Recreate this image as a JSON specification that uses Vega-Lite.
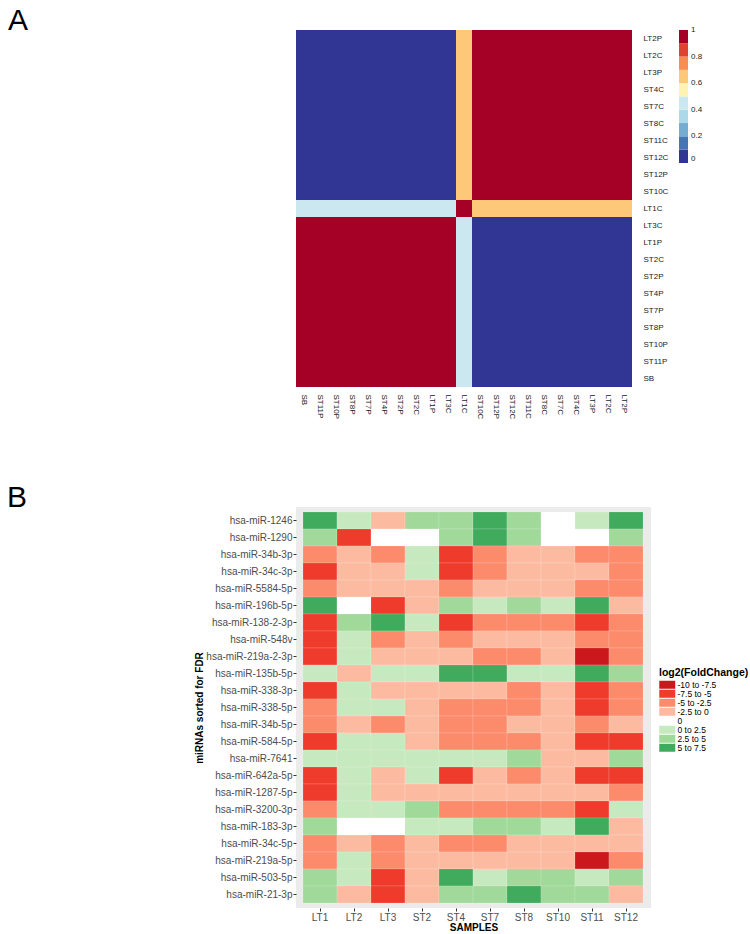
{
"$schema": "https://vega.github.io/schema/vega-lite/v6.json",
"padding": {"left": 7, "top": 6, "right": 0, "bottom": 0},
"bounds": "flush",
"spacing": 118,
"config": {"view": {"stroke": null}, "font": "Liberation Sans"},
"datasets": {
"corr": [
{"r":"LT2P","c":"SB","v":0},{"r":"LT2P","c":"ST11P","v":0},{"r":"LT2P","c":"ST10P","v":0},{"r":"LT2P","c":"ST8P","v":0},{"r":"LT2P","c":"ST7P","v":0},{"r":"LT2P","c":"ST4P","v":0},{"r":"LT2P","c":"ST2P","v":0},{"r":"LT2P","c":"ST2C","v":0},{"r":"LT2P","c":"LT1P","v":0},{"r":"LT2P","c":"LT3C","v":0},{"r":"LT2P","c":"LT1C","v":0.65},{"r":"LT2P","c":"ST10C","v":1},{"r":"LT2P","c":"ST12P","v":1},{"r":"LT2P","c":"ST12C","v":1},{"r":"LT2P","c":"ST11C","v":1},{"r":"LT2P","c":"ST8C","v":1},{"r":"LT2P","c":"ST7C","v":1},{"r":"LT2P","c":"ST4C","v":1},{"r":"LT2P","c":"LT3P","v":1},{"r":"LT2P","c":"LT2C","v":1},{"r":"LT2P","c":"LT2P","v":1},
{"r":"LT2C","c":"SB","v":0},{"r":"LT2C","c":"ST11P","v":0},{"r":"LT2C","c":"ST10P","v":0},{"r":"LT2C","c":"ST8P","v":0},{"r":"LT2C","c":"ST7P","v":0},{"r":"LT2C","c":"ST4P","v":0},{"r":"LT2C","c":"ST2P","v":0},{"r":"LT2C","c":"ST2C","v":0},{"r":"LT2C","c":"LT1P","v":0},{"r":"LT2C","c":"LT3C","v":0},{"r":"LT2C","c":"LT1C","v":0.65},{"r":"LT2C","c":"ST10C","v":1},{"r":"LT2C","c":"ST12P","v":1},{"r":"LT2C","c":"ST12C","v":1},{"r":"LT2C","c":"ST11C","v":1},{"r":"LT2C","c":"ST8C","v":1},{"r":"LT2C","c":"ST7C","v":1},{"r":"LT2C","c":"ST4C","v":1},{"r":"LT2C","c":"LT3P","v":1},{"r":"LT2C","c":"LT2C","v":1},{"r":"LT2C","c":"LT2P","v":1},
{"r":"LT3P","c":"SB","v":0},{"r":"LT3P","c":"ST11P","v":0},{"r":"LT3P","c":"ST10P","v":0},{"r":"LT3P","c":"ST8P","v":0},{"r":"LT3P","c":"ST7P","v":0},{"r":"LT3P","c":"ST4P","v":0},{"r":"LT3P","c":"ST2P","v":0},{"r":"LT3P","c":"ST2C","v":0},{"r":"LT3P","c":"LT1P","v":0},{"r":"LT3P","c":"LT3C","v":0},{"r":"LT3P","c":"LT1C","v":0.65},{"r":"LT3P","c":"ST10C","v":1},{"r":"LT3P","c":"ST12P","v":1},{"r":"LT3P","c":"ST12C","v":1},{"r":"LT3P","c":"ST11C","v":1},{"r":"LT3P","c":"ST8C","v":1},{"r":"LT3P","c":"ST7C","v":1},{"r":"LT3P","c":"ST4C","v":1},{"r":"LT3P","c":"LT3P","v":1},{"r":"LT3P","c":"LT2C","v":1},{"r":"LT3P","c":"LT2P","v":1},
{"r":"ST4C","c":"SB","v":0},{"r":"ST4C","c":"ST11P","v":0},{"r":"ST4C","c":"ST10P","v":0},{"r":"ST4C","c":"ST8P","v":0},{"r":"ST4C","c":"ST7P","v":0},{"r":"ST4C","c":"ST4P","v":0},{"r":"ST4C","c":"ST2P","v":0},{"r":"ST4C","c":"ST2C","v":0},{"r":"ST4C","c":"LT1P","v":0},{"r":"ST4C","c":"LT3C","v":0},{"r":"ST4C","c":"LT1C","v":0.65},{"r":"ST4C","c":"ST10C","v":1},{"r":"ST4C","c":"ST12P","v":1},{"r":"ST4C","c":"ST12C","v":1},{"r":"ST4C","c":"ST11C","v":1},{"r":"ST4C","c":"ST8C","v":1},{"r":"ST4C","c":"ST7C","v":1},{"r":"ST4C","c":"ST4C","v":1},{"r":"ST4C","c":"LT3P","v":1},{"r":"ST4C","c":"LT2C","v":1},{"r":"ST4C","c":"LT2P","v":1},
{"r":"ST7C","c":"SB","v":0},{"r":"ST7C","c":"ST11P","v":0},{"r":"ST7C","c":"ST10P","v":0},{"r":"ST7C","c":"ST8P","v":0},{"r":"ST7C","c":"ST7P","v":0},{"r":"ST7C","c":"ST4P","v":0},{"r":"ST7C","c":"ST2P","v":0},{"r":"ST7C","c":"ST2C","v":0},{"r":"ST7C","c":"LT1P","v":0},{"r":"ST7C","c":"LT3C","v":0},{"r":"ST7C","c":"LT1C","v":0.65},{"r":"ST7C","c":"ST10C","v":1},{"r":"ST7C","c":"ST12P","v":1},{"r":"ST7C","c":"ST12C","v":1},{"r":"ST7C","c":"ST11C","v":1},{"r":"ST7C","c":"ST8C","v":1},{"r":"ST7C","c":"ST7C","v":1},{"r":"ST7C","c":"ST4C","v":1},{"r":"ST7C","c":"LT3P","v":1},{"r":"ST7C","c":"LT2C","v":1},{"r":"ST7C","c":"LT2P","v":1},
{"r":"ST8C","c":"SB","v":0},{"r":"ST8C","c":"ST11P","v":0},{"r":"ST8C","c":"ST10P","v":0},{"r":"ST8C","c":"ST8P","v":0},{"r":"ST8C","c":"ST7P","v":0},{"r":"ST8C","c":"ST4P","v":0},{"r":"ST8C","c":"ST2P","v":0},{"r":"ST8C","c":"ST2C","v":0},{"r":"ST8C","c":"LT1P","v":0},{"r":"ST8C","c":"LT3C","v":0},{"r":"ST8C","c":"LT1C","v":0.65},{"r":"ST8C","c":"ST10C","v":1},{"r":"ST8C","c":"ST12P","v":1},{"r":"ST8C","c":"ST12C","v":1},{"r":"ST8C","c":"ST11C","v":1},{"r":"ST8C","c":"ST8C","v":1},{"r":"ST8C","c":"ST7C","v":1},{"r":"ST8C","c":"ST4C","v":1},{"r":"ST8C","c":"LT3P","v":1},{"r":"ST8C","c":"LT2C","v":1},{"r":"ST8C","c":"LT2P","v":1},
{"r":"ST11C","c":"SB","v":0},{"r":"ST11C","c":"ST11P","v":0},{"r":"ST11C","c":"ST10P","v":0},{"r":"ST11C","c":"ST8P","v":0},{"r":"ST11C","c":"ST7P","v":0},{"r":"ST11C","c":"ST4P","v":0},{"r":"ST11C","c":"ST2P","v":0},{"r":"ST11C","c":"ST2C","v":0},{"r":"ST11C","c":"LT1P","v":0},{"r":"ST11C","c":"LT3C","v":0},{"r":"ST11C","c":"LT1C","v":0.65},{"r":"ST11C","c":"ST10C","v":1},{"r":"ST11C","c":"ST12P","v":1},{"r":"ST11C","c":"ST12C","v":1},{"r":"ST11C","c":"ST11C","v":1},{"r":"ST11C","c":"ST8C","v":1},{"r":"ST11C","c":"ST7C","v":1},{"r":"ST11C","c":"ST4C","v":1},{"r":"ST11C","c":"LT3P","v":1},{"r":"ST11C","c":"LT2C","v":1},{"r":"ST11C","c":"LT2P","v":1},
{"r":"ST12C","c":"SB","v":0},{"r":"ST12C","c":"ST11P","v":0},{"r":"ST12C","c":"ST10P","v":0},{"r":"ST12C","c":"ST8P","v":0},{"r":"ST12C","c":"ST7P","v":0},{"r":"ST12C","c":"ST4P","v":0},{"r":"ST12C","c":"ST2P","v":0},{"r":"ST12C","c":"ST2C","v":0},{"r":"ST12C","c":"LT1P","v":0},{"r":"ST12C","c":"LT3C","v":0},{"r":"ST12C","c":"LT1C","v":0.65},{"r":"ST12C","c":"ST10C","v":1},{"r":"ST12C","c":"ST12P","v":1},{"r":"ST12C","c":"ST12C","v":1},{"r":"ST12C","c":"ST11C","v":1},{"r":"ST12C","c":"ST8C","v":1},{"r":"ST12C","c":"ST7C","v":1},{"r":"ST12C","c":"ST4C","v":1},{"r":"ST12C","c":"LT3P","v":1},{"r":"ST12C","c":"LT2C","v":1},{"r":"ST12C","c":"LT2P","v":1},
{"r":"ST12P","c":"SB","v":0},{"r":"ST12P","c":"ST11P","v":0},{"r":"ST12P","c":"ST10P","v":0},{"r":"ST12P","c":"ST8P","v":0},{"r":"ST12P","c":"ST7P","v":0},{"r":"ST12P","c":"ST4P","v":0},{"r":"ST12P","c":"ST2P","v":0},{"r":"ST12P","c":"ST2C","v":0},{"r":"ST12P","c":"LT1P","v":0},{"r":"ST12P","c":"LT3C","v":0},{"r":"ST12P","c":"LT1C","v":0.65},{"r":"ST12P","c":"ST10C","v":1},{"r":"ST12P","c":"ST12P","v":1},{"r":"ST12P","c":"ST12C","v":1},{"r":"ST12P","c":"ST11C","v":1},{"r":"ST12P","c":"ST8C","v":1},{"r":"ST12P","c":"ST7C","v":1},{"r":"ST12P","c":"ST4C","v":1},{"r":"ST12P","c":"LT3P","v":1},{"r":"ST12P","c":"LT2C","v":1},{"r":"ST12P","c":"LT2P","v":1},
{"r":"ST10C","c":"SB","v":0},{"r":"ST10C","c":"ST11P","v":0},{"r":"ST10C","c":"ST10P","v":0},{"r":"ST10C","c":"ST8P","v":0},{"r":"ST10C","c":"ST7P","v":0},{"r":"ST10C","c":"ST4P","v":0},{"r":"ST10C","c":"ST2P","v":0},{"r":"ST10C","c":"ST2C","v":0},{"r":"ST10C","c":"LT1P","v":0},{"r":"ST10C","c":"LT3C","v":0},{"r":"ST10C","c":"LT1C","v":0.65},{"r":"ST10C","c":"ST10C","v":1},{"r":"ST10C","c":"ST12P","v":1},{"r":"ST10C","c":"ST12C","v":1},{"r":"ST10C","c":"ST11C","v":1},{"r":"ST10C","c":"ST8C","v":1},{"r":"ST10C","c":"ST7C","v":1},{"r":"ST10C","c":"ST4C","v":1},{"r":"ST10C","c":"LT3P","v":1},{"r":"ST10C","c":"LT2C","v":1},{"r":"ST10C","c":"LT2P","v":1},
{"r":"LT1C","c":"SB","v":0.42},{"r":"LT1C","c":"ST11P","v":0.42},{"r":"LT1C","c":"ST10P","v":0.42},{"r":"LT1C","c":"ST8P","v":0.42},{"r":"LT1C","c":"ST7P","v":0.42},{"r":"LT1C","c":"ST4P","v":0.42},{"r":"LT1C","c":"ST2P","v":0.42},{"r":"LT1C","c":"ST2C","v":0.42},{"r":"LT1C","c":"LT1P","v":0.42},{"r":"LT1C","c":"LT3C","v":0.42},{"r":"LT1C","c":"LT1C","v":1},{"r":"LT1C","c":"ST10C","v":0.65},{"r":"LT1C","c":"ST12P","v":0.65},{"r":"LT1C","c":"ST12C","v":0.65},{"r":"LT1C","c":"ST11C","v":0.65},{"r":"LT1C","c":"ST8C","v":0.65},{"r":"LT1C","c":"ST7C","v":0.65},{"r":"LT1C","c":"ST4C","v":0.65},{"r":"LT1C","c":"LT3P","v":0.65},{"r":"LT1C","c":"LT2C","v":0.65},{"r":"LT1C","c":"LT2P","v":0.65},
{"r":"LT3C","c":"SB","v":1},{"r":"LT3C","c":"ST11P","v":1},{"r":"LT3C","c":"ST10P","v":1},{"r":"LT3C","c":"ST8P","v":1},{"r":"LT3C","c":"ST7P","v":1},{"r":"LT3C","c":"ST4P","v":1},{"r":"LT3C","c":"ST2P","v":1},{"r":"LT3C","c":"ST2C","v":1},{"r":"LT3C","c":"LT1P","v":1},{"r":"LT3C","c":"LT3C","v":1},{"r":"LT3C","c":"LT1C","v":0.42},{"r":"LT3C","c":"ST10C","v":0},{"r":"LT3C","c":"ST12P","v":0},{"r":"LT3C","c":"ST12C","v":0},{"r":"LT3C","c":"ST11C","v":0},{"r":"LT3C","c":"ST8C","v":0},{"r":"LT3C","c":"ST7C","v":0},{"r":"LT3C","c":"ST4C","v":0},{"r":"LT3C","c":"LT3P","v":0},{"r":"LT3C","c":"LT2C","v":0},{"r":"LT3C","c":"LT2P","v":0},
{"r":"LT1P","c":"SB","v":1},{"r":"LT1P","c":"ST11P","v":1},{"r":"LT1P","c":"ST10P","v":1},{"r":"LT1P","c":"ST8P","v":1},{"r":"LT1P","c":"ST7P","v":1},{"r":"LT1P","c":"ST4P","v":1},{"r":"LT1P","c":"ST2P","v":1},{"r":"LT1P","c":"ST2C","v":1},{"r":"LT1P","c":"LT1P","v":1},{"r":"LT1P","c":"LT3C","v":1},{"r":"LT1P","c":"LT1C","v":0.42},{"r":"LT1P","c":"ST10C","v":0},{"r":"LT1P","c":"ST12P","v":0},{"r":"LT1P","c":"ST12C","v":0},{"r":"LT1P","c":"ST11C","v":0},{"r":"LT1P","c":"ST8C","v":0},{"r":"LT1P","c":"ST7C","v":0},{"r":"LT1P","c":"ST4C","v":0},{"r":"LT1P","c":"LT3P","v":0},{"r":"LT1P","c":"LT2C","v":0},{"r":"LT1P","c":"LT2P","v":0},
{"r":"ST2C","c":"SB","v":1},{"r":"ST2C","c":"ST11P","v":1},{"r":"ST2C","c":"ST10P","v":1},{"r":"ST2C","c":"ST8P","v":1},{"r":"ST2C","c":"ST7P","v":1},{"r":"ST2C","c":"ST4P","v":1},{"r":"ST2C","c":"ST2P","v":1},{"r":"ST2C","c":"ST2C","v":1},{"r":"ST2C","c":"LT1P","v":1},{"r":"ST2C","c":"LT3C","v":1},{"r":"ST2C","c":"LT1C","v":0.42},{"r":"ST2C","c":"ST10C","v":0},{"r":"ST2C","c":"ST12P","v":0},{"r":"ST2C","c":"ST12C","v":0},{"r":"ST2C","c":"ST11C","v":0},{"r":"ST2C","c":"ST8C","v":0},{"r":"ST2C","c":"ST7C","v":0},{"r":"ST2C","c":"ST4C","v":0},{"r":"ST2C","c":"LT3P","v":0},{"r":"ST2C","c":"LT2C","v":0},{"r":"ST2C","c":"LT2P","v":0},
{"r":"ST2P","c":"SB","v":1},{"r":"ST2P","c":"ST11P","v":1},{"r":"ST2P","c":"ST10P","v":1},{"r":"ST2P","c":"ST8P","v":1},{"r":"ST2P","c":"ST7P","v":1},{"r":"ST2P","c":"ST4P","v":1},{"r":"ST2P","c":"ST2P","v":1},{"r":"ST2P","c":"ST2C","v":1},{"r":"ST2P","c":"LT1P","v":1},{"r":"ST2P","c":"LT3C","v":1},{"r":"ST2P","c":"LT1C","v":0.42},{"r":"ST2P","c":"ST10C","v":0},{"r":"ST2P","c":"ST12P","v":0},{"r":"ST2P","c":"ST12C","v":0},{"r":"ST2P","c":"ST11C","v":0},{"r":"ST2P","c":"ST8C","v":0},{"r":"ST2P","c":"ST7C","v":0},{"r":"ST2P","c":"ST4C","v":0},{"r":"ST2P","c":"LT3P","v":0},{"r":"ST2P","c":"LT2C","v":0},{"r":"ST2P","c":"LT2P","v":0},
{"r":"ST4P","c":"SB","v":1},{"r":"ST4P","c":"ST11P","v":1},{"r":"ST4P","c":"ST10P","v":1},{"r":"ST4P","c":"ST8P","v":1},{"r":"ST4P","c":"ST7P","v":1},{"r":"ST4P","c":"ST4P","v":1},{"r":"ST4P","c":"ST2P","v":1},{"r":"ST4P","c":"ST2C","v":1},{"r":"ST4P","c":"LT1P","v":1},{"r":"ST4P","c":"LT3C","v":1},{"r":"ST4P","c":"LT1C","v":0.42},{"r":"ST4P","c":"ST10C","v":0},{"r":"ST4P","c":"ST12P","v":0},{"r":"ST4P","c":"ST12C","v":0},{"r":"ST4P","c":"ST11C","v":0},{"r":"ST4P","c":"ST8C","v":0},{"r":"ST4P","c":"ST7C","v":0},{"r":"ST4P","c":"ST4C","v":0},{"r":"ST4P","c":"LT3P","v":0},{"r":"ST4P","c":"LT2C","v":0},{"r":"ST4P","c":"LT2P","v":0},
{"r":"ST7P","c":"SB","v":1},{"r":"ST7P","c":"ST11P","v":1},{"r":"ST7P","c":"ST10P","v":1},{"r":"ST7P","c":"ST8P","v":1},{"r":"ST7P","c":"ST7P","v":1},{"r":"ST7P","c":"ST4P","v":1},{"r":"ST7P","c":"ST2P","v":1},{"r":"ST7P","c":"ST2C","v":1},{"r":"ST7P","c":"LT1P","v":1},{"r":"ST7P","c":"LT3C","v":1},{"r":"ST7P","c":"LT1C","v":0.42},{"r":"ST7P","c":"ST10C","v":0},{"r":"ST7P","c":"ST12P","v":0},{"r":"ST7P","c":"ST12C","v":0},{"r":"ST7P","c":"ST11C","v":0},{"r":"ST7P","c":"ST8C","v":0},{"r":"ST7P","c":"ST7C","v":0},{"r":"ST7P","c":"ST4C","v":0},{"r":"ST7P","c":"LT3P","v":0},{"r":"ST7P","c":"LT2C","v":0},{"r":"ST7P","c":"LT2P","v":0},
{"r":"ST8P","c":"SB","v":1},{"r":"ST8P","c":"ST11P","v":1},{"r":"ST8P","c":"ST10P","v":1},{"r":"ST8P","c":"ST8P","v":1},{"r":"ST8P","c":"ST7P","v":1},{"r":"ST8P","c":"ST4P","v":1},{"r":"ST8P","c":"ST2P","v":1},{"r":"ST8P","c":"ST2C","v":1},{"r":"ST8P","c":"LT1P","v":1},{"r":"ST8P","c":"LT3C","v":1},{"r":"ST8P","c":"LT1C","v":0.42},{"r":"ST8P","c":"ST10C","v":0},{"r":"ST8P","c":"ST12P","v":0},{"r":"ST8P","c":"ST12C","v":0},{"r":"ST8P","c":"ST11C","v":0},{"r":"ST8P","c":"ST8C","v":0},{"r":"ST8P","c":"ST7C","v":0},{"r":"ST8P","c":"ST4C","v":0},{"r":"ST8P","c":"LT3P","v":0},{"r":"ST8P","c":"LT2C","v":0},{"r":"ST8P","c":"LT2P","v":0},
{"r":"ST10P","c":"SB","v":1},{"r":"ST10P","c":"ST11P","v":1},{"r":"ST10P","c":"ST10P","v":1},{"r":"ST10P","c":"ST8P","v":1},{"r":"ST10P","c":"ST7P","v":1},{"r":"ST10P","c":"ST4P","v":1},{"r":"ST10P","c":"ST2P","v":1},{"r":"ST10P","c":"ST2C","v":1},{"r":"ST10P","c":"LT1P","v":1},{"r":"ST10P","c":"LT3C","v":1},{"r":"ST10P","c":"LT1C","v":0.42},{"r":"ST10P","c":"ST10C","v":0},{"r":"ST10P","c":"ST12P","v":0},{"r":"ST10P","c":"ST12C","v":0},{"r":"ST10P","c":"ST11C","v":0},{"r":"ST10P","c":"ST8C","v":0},{"r":"ST10P","c":"ST7C","v":0},{"r":"ST10P","c":"ST4C","v":0},{"r":"ST10P","c":"LT3P","v":0},{"r":"ST10P","c":"LT2C","v":0},{"r":"ST10P","c":"LT2P","v":0},
{"r":"ST11P","c":"SB","v":1},{"r":"ST11P","c":"ST11P","v":1},{"r":"ST11P","c":"ST10P","v":1},{"r":"ST11P","c":"ST8P","v":1},{"r":"ST11P","c":"ST7P","v":1},{"r":"ST11P","c":"ST4P","v":1},{"r":"ST11P","c":"ST2P","v":1},{"r":"ST11P","c":"ST2C","v":1},{"r":"ST11P","c":"LT1P","v":1},{"r":"ST11P","c":"LT3C","v":1},{"r":"ST11P","c":"LT1C","v":0.42},{"r":"ST11P","c":"ST10C","v":0},{"r":"ST11P","c":"ST12P","v":0},{"r":"ST11P","c":"ST12C","v":0},{"r":"ST11P","c":"ST11C","v":0},{"r":"ST11P","c":"ST8C","v":0},{"r":"ST11P","c":"ST7C","v":0},{"r":"ST11P","c":"ST4C","v":0},{"r":"ST11P","c":"LT3P","v":0},{"r":"ST11P","c":"LT2C","v":0},{"r":"ST11P","c":"LT2P","v":0},
{"r":"SB","c":"SB","v":1},{"r":"SB","c":"ST11P","v":1},{"r":"SB","c":"ST10P","v":1},{"r":"SB","c":"ST8P","v":1},{"r":"SB","c":"ST7P","v":1},{"r":"SB","c":"ST4P","v":1},{"r":"SB","c":"ST2P","v":1},{"r":"SB","c":"ST2C","v":1},{"r":"SB","c":"LT1P","v":1},{"r":"SB","c":"LT3C","v":1},{"r":"SB","c":"LT1C","v":0.42},{"r":"SB","c":"ST10C","v":0},{"r":"SB","c":"ST12P","v":0},{"r":"SB","c":"ST12C","v":0},{"r":"SB","c":"ST11C","v":0},{"r":"SB","c":"ST8C","v":0},{"r":"SB","c":"ST7C","v":0},{"r":"SB","c":"ST4C","v":0},{"r":"SB","c":"LT3P","v":0},{"r":"SB","c":"LT2C","v":0},{"r":"SB","c":"LT2P","v":0}
],
"fc": [
{"m":"hsa-miR-1246","s":"LT1","c":"5 to 7.5"},{"m":"hsa-miR-1246","s":"LT2","c":"0 to 2.5"},{"m":"hsa-miR-1246","s":"LT3","c":"-2.5 to 0"},{"m":"hsa-miR-1246","s":"ST2","c":"2.5 to 5"},{"m":"hsa-miR-1246","s":"ST4","c":"2.5 to 5"},{"m":"hsa-miR-1246","s":"ST7","c":"5 to 7.5"},{"m":"hsa-miR-1246","s":"ST8","c":"2.5 to 5"},{"m":"hsa-miR-1246","s":"ST10","c":"0"},{"m":"hsa-miR-1246","s":"ST11","c":"0 to 2.5"},{"m":"hsa-miR-1246","s":"ST12","c":"5 to 7.5"},
{"m":"hsa-miR-1290","s":"LT1","c":"2.5 to 5"},{"m":"hsa-miR-1290","s":"LT2","c":"-7.5 to -5"},{"m":"hsa-miR-1290","s":"LT3","c":"0"},{"m":"hsa-miR-1290","s":"ST2","c":"0"},{"m":"hsa-miR-1290","s":"ST4","c":"2.5 to 5"},{"m":"hsa-miR-1290","s":"ST7","c":"5 to 7.5"},{"m":"hsa-miR-1290","s":"ST8","c":"2.5 to 5"},{"m":"hsa-miR-1290","s":"ST10","c":"0"},{"m":"hsa-miR-1290","s":"ST11","c":"0"},{"m":"hsa-miR-1290","s":"ST12","c":"2.5 to 5"},
{"m":"hsa-miR-34b-3p","s":"LT1","c":"-5 to -2.5"},{"m":"hsa-miR-34b-3p","s":"LT2","c":"-2.5 to 0"},{"m":"hsa-miR-34b-3p","s":"LT3","c":"-5 to -2.5"},{"m":"hsa-miR-34b-3p","s":"ST2","c":"0 to 2.5"},{"m":"hsa-miR-34b-3p","s":"ST4","c":"-7.5 to -5"},{"m":"hsa-miR-34b-3p","s":"ST7","c":"-5 to -2.5"},{"m":"hsa-miR-34b-3p","s":"ST8","c":"-2.5 to 0"},{"m":"hsa-miR-34b-3p","s":"ST10","c":"-2.5 to 0"},{"m":"hsa-miR-34b-3p","s":"ST11","c":"-5 to -2.5"},{"m":"hsa-miR-34b-3p","s":"ST12","c":"-5 to -2.5"},
{"m":"hsa-miR-34c-3p","s":"LT1","c":"-7.5 to -5"},{"m":"hsa-miR-34c-3p","s":"LT2","c":"-2.5 to 0"},{"m":"hsa-miR-34c-3p","s":"LT3","c":"-2.5 to 0"},{"m":"hsa-miR-34c-3p","s":"ST2","c":"0 to 2.5"},{"m":"hsa-miR-34c-3p","s":"ST4","c":"-7.5 to -5"},{"m":"hsa-miR-34c-3p","s":"ST7","c":"-5 to -2.5"},{"m":"hsa-miR-34c-3p","s":"ST8","c":"-2.5 to 0"},{"m":"hsa-miR-34c-3p","s":"ST10","c":"-2.5 to 0"},{"m":"hsa-miR-34c-3p","s":"ST11","c":"-2.5 to 0"},{"m":"hsa-miR-34c-3p","s":"ST12","c":"-5 to -2.5"},
{"m":"hsa-miR-5584-5p","s":"LT1","c":"-5 to -2.5"},{"m":"hsa-miR-5584-5p","s":"LT2","c":"-2.5 to 0"},{"m":"hsa-miR-5584-5p","s":"LT3","c":"-2.5 to 0"},{"m":"hsa-miR-5584-5p","s":"ST2","c":"-2.5 to 0"},{"m":"hsa-miR-5584-5p","s":"ST4","c":"-5 to -2.5"},{"m":"hsa-miR-5584-5p","s":"ST7","c":"-2.5 to 0"},{"m":"hsa-miR-5584-5p","s":"ST8","c":"-2.5 to 0"},{"m":"hsa-miR-5584-5p","s":"ST10","c":"-2.5 to 0"},{"m":"hsa-miR-5584-5p","s":"ST11","c":"-5 to -2.5"},{"m":"hsa-miR-5584-5p","s":"ST12","c":"-5 to -2.5"},
{"m":"hsa-miR-196b-5p","s":"LT1","c":"5 to 7.5"},{"m":"hsa-miR-196b-5p","s":"LT2","c":"0"},{"m":"hsa-miR-196b-5p","s":"LT3","c":"-7.5 to -5"},{"m":"hsa-miR-196b-5p","s":"ST2","c":"-2.5 to 0"},{"m":"hsa-miR-196b-5p","s":"ST4","c":"2.5 to 5"},{"m":"hsa-miR-196b-5p","s":"ST7","c":"0 to 2.5"},{"m":"hsa-miR-196b-5p","s":"ST8","c":"2.5 to 5"},{"m":"hsa-miR-196b-5p","s":"ST10","c":"0 to 2.5"},{"m":"hsa-miR-196b-5p","s":"ST11","c":"5 to 7.5"},{"m":"hsa-miR-196b-5p","s":"ST12","c":"-2.5 to 0"},
{"m":"hsa-miR-138-2-3p","s":"LT1","c":"-7.5 to -5"},{"m":"hsa-miR-138-2-3p","s":"LT2","c":"2.5 to 5"},{"m":"hsa-miR-138-2-3p","s":"LT3","c":"5 to 7.5"},{"m":"hsa-miR-138-2-3p","s":"ST2","c":"0 to 2.5"},{"m":"hsa-miR-138-2-3p","s":"ST4","c":"-7.5 to -5"},{"m":"hsa-miR-138-2-3p","s":"ST7","c":"-5 to -2.5"},{"m":"hsa-miR-138-2-3p","s":"ST8","c":"-5 to -2.5"},{"m":"hsa-miR-138-2-3p","s":"ST10","c":"-5 to -2.5"},{"m":"hsa-miR-138-2-3p","s":"ST11","c":"-7.5 to -5"},{"m":"hsa-miR-138-2-3p","s":"ST12","c":"-5 to -2.5"},
{"m":"hsa-miR-548v","s":"LT1","c":"-7.5 to -5"},{"m":"hsa-miR-548v","s":"LT2","c":"0 to 2.5"},{"m":"hsa-miR-548v","s":"LT3","c":"-5 to -2.5"},{"m":"hsa-miR-548v","s":"ST2","c":"-2.5 to 0"},{"m":"hsa-miR-548v","s":"ST4","c":"-5 to -2.5"},{"m":"hsa-miR-548v","s":"ST7","c":"-2.5 to 0"},{"m":"hsa-miR-548v","s":"ST8","c":"-2.5 to 0"},{"m":"hsa-miR-548v","s":"ST10","c":"-2.5 to 0"},{"m":"hsa-miR-548v","s":"ST11","c":"-5 to -2.5"},{"m":"hsa-miR-548v","s":"ST12","c":"-5 to -2.5"},
{"m":"hsa-miR-219a-2-3p","s":"LT1","c":"-7.5 to -5"},{"m":"hsa-miR-219a-2-3p","s":"LT2","c":"0 to 2.5"},{"m":"hsa-miR-219a-2-3p","s":"LT3","c":"-2.5 to 0"},{"m":"hsa-miR-219a-2-3p","s":"ST2","c":"-2.5 to 0"},{"m":"hsa-miR-219a-2-3p","s":"ST4","c":"-2.5 to 0"},{"m":"hsa-miR-219a-2-3p","s":"ST7","c":"-5 to -2.5"},{"m":"hsa-miR-219a-2-3p","s":"ST8","c":"-5 to -2.5"},{"m":"hsa-miR-219a-2-3p","s":"ST10","c":"-2.5 to 0"},{"m":"hsa-miR-219a-2-3p","s":"ST11","c":"-10 to -7.5"},{"m":"hsa-miR-219a-2-3p","s":"ST12","c":"-5 to -2.5"},
{"m":"hsa-miR-135b-5p","s":"LT1","c":"0 to 2.5"},{"m":"hsa-miR-135b-5p","s":"LT2","c":"-2.5 to 0"},{"m":"hsa-miR-135b-5p","s":"LT3","c":"0 to 2.5"},{"m":"hsa-miR-135b-5p","s":"ST2","c":"0 to 2.5"},{"m":"hsa-miR-135b-5p","s":"ST4","c":"5 to 7.5"},{"m":"hsa-miR-135b-5p","s":"ST7","c":"5 to 7.5"},{"m":"hsa-miR-135b-5p","s":"ST8","c":"0 to 2.5"},{"m":"hsa-miR-135b-5p","s":"ST10","c":"0 to 2.5"},{"m":"hsa-miR-135b-5p","s":"ST11","c":"5 to 7.5"},{"m":"hsa-miR-135b-5p","s":"ST12","c":"2.5 to 5"},
{"m":"hsa-miR-338-3p","s":"LT1","c":"-7.5 to -5"},{"m":"hsa-miR-338-3p","s":"LT2","c":"0 to 2.5"},{"m":"hsa-miR-338-3p","s":"LT3","c":"-2.5 to 0"},{"m":"hsa-miR-338-3p","s":"ST2","c":"-2.5 to 0"},{"m":"hsa-miR-338-3p","s":"ST4","c":"-2.5 to 0"},{"m":"hsa-miR-338-3p","s":"ST7","c":"-2.5 to 0"},{"m":"hsa-miR-338-3p","s":"ST8","c":"-5 to -2.5"},{"m":"hsa-miR-338-3p","s":"ST10","c":"-2.5 to 0"},{"m":"hsa-miR-338-3p","s":"ST11","c":"-7.5 to -5"},{"m":"hsa-miR-338-3p","s":"ST12","c":"-5 to -2.5"},
{"m":"hsa-miR-338-5p","s":"LT1","c":"-5 to -2.5"},{"m":"hsa-miR-338-5p","s":"LT2","c":"0 to 2.5"},{"m":"hsa-miR-338-5p","s":"LT3","c":"0 to 2.5"},{"m":"hsa-miR-338-5p","s":"ST2","c":"-2.5 to 0"},{"m":"hsa-miR-338-5p","s":"ST4","c":"-5 to -2.5"},{"m":"hsa-miR-338-5p","s":"ST7","c":"-5 to -2.5"},{"m":"hsa-miR-338-5p","s":"ST8","c":"-5 to -2.5"},{"m":"hsa-miR-338-5p","s":"ST10","c":"-2.5 to 0"},{"m":"hsa-miR-338-5p","s":"ST11","c":"-7.5 to -5"},{"m":"hsa-miR-338-5p","s":"ST12","c":"-5 to -2.5"},
{"m":"hsa-miR-34b-5p","s":"LT1","c":"-5 to -2.5"},{"m":"hsa-miR-34b-5p","s":"LT2","c":"-2.5 to 0"},{"m":"hsa-miR-34b-5p","s":"LT3","c":"-5 to -2.5"},{"m":"hsa-miR-34b-5p","s":"ST2","c":"-2.5 to 0"},{"m":"hsa-miR-34b-5p","s":"ST4","c":"-5 to -2.5"},{"m":"hsa-miR-34b-5p","s":"ST7","c":"-5 to -2.5"},{"m":"hsa-miR-34b-5p","s":"ST8","c":"-2.5 to 0"},{"m":"hsa-miR-34b-5p","s":"ST10","c":"-2.5 to 0"},{"m":"hsa-miR-34b-5p","s":"ST11","c":"-5 to -2.5"},{"m":"hsa-miR-34b-5p","s":"ST12","c":"-2.5 to 0"},
{"m":"hsa-miR-584-5p","s":"LT1","c":"-7.5 to -5"},{"m":"hsa-miR-584-5p","s":"LT2","c":"0 to 2.5"},{"m":"hsa-miR-584-5p","s":"LT3","c":"0 to 2.5"},{"m":"hsa-miR-584-5p","s":"ST2","c":"-2.5 to 0"},{"m":"hsa-miR-584-5p","s":"ST4","c":"-5 to -2.5"},{"m":"hsa-miR-584-5p","s":"ST7","c":"-5 to -2.5"},{"m":"hsa-miR-584-5p","s":"ST8","c":"-5 to -2.5"},{"m":"hsa-miR-584-5p","s":"ST10","c":"-2.5 to 0"},{"m":"hsa-miR-584-5p","s":"ST11","c":"-7.5 to -5"},{"m":"hsa-miR-584-5p","s":"ST12","c":"-7.5 to -5"},
{"m":"hsa-miR-7641","s":"LT1","c":"0 to 2.5"},{"m":"hsa-miR-7641","s":"LT2","c":"0 to 2.5"},{"m":"hsa-miR-7641","s":"LT3","c":"0 to 2.5"},{"m":"hsa-miR-7641","s":"ST2","c":"0 to 2.5"},{"m":"hsa-miR-7641","s":"ST4","c":"0 to 2.5"},{"m":"hsa-miR-7641","s":"ST7","c":"0 to 2.5"},{"m":"hsa-miR-7641","s":"ST8","c":"2.5 to 5"},{"m":"hsa-miR-7641","s":"ST10","c":"-2.5 to 0"},{"m":"hsa-miR-7641","s":"ST11","c":"-2.5 to 0"},{"m":"hsa-miR-7641","s":"ST12","c":"2.5 to 5"},
{"m":"hsa-miR-642a-5p","s":"LT1","c":"-7.5 to -5"},{"m":"hsa-miR-642a-5p","s":"LT2","c":"0 to 2.5"},{"m":"hsa-miR-642a-5p","s":"LT3","c":"-2.5 to 0"},{"m":"hsa-miR-642a-5p","s":"ST2","c":"0 to 2.5"},{"m":"hsa-miR-642a-5p","s":"ST4","c":"-7.5 to -5"},{"m":"hsa-miR-642a-5p","s":"ST7","c":"-2.5 to 0"},{"m":"hsa-miR-642a-5p","s":"ST8","c":"-5 to -2.5"},{"m":"hsa-miR-642a-5p","s":"ST10","c":"-2.5 to 0"},{"m":"hsa-miR-642a-5p","s":"ST11","c":"-7.5 to -5"},{"m":"hsa-miR-642a-5p","s":"ST12","c":"-7.5 to -5"},
{"m":"hsa-miR-1287-5p","s":"LT1","c":"-7.5 to -5"},{"m":"hsa-miR-1287-5p","s":"LT2","c":"0 to 2.5"},{"m":"hsa-miR-1287-5p","s":"LT3","c":"-2.5 to 0"},{"m":"hsa-miR-1287-5p","s":"ST2","c":"-2.5 to 0"},{"m":"hsa-miR-1287-5p","s":"ST4","c":"-2.5 to 0"},{"m":"hsa-miR-1287-5p","s":"ST7","c":"-2.5 to 0"},{"m":"hsa-miR-1287-5p","s":"ST8","c":"-2.5 to 0"},{"m":"hsa-miR-1287-5p","s":"ST10","c":"-2.5 to 0"},{"m":"hsa-miR-1287-5p","s":"ST11","c":"-2.5 to 0"},{"m":"hsa-miR-1287-5p","s":"ST12","c":"-5 to -2.5"},
{"m":"hsa-miR-3200-3p","s":"LT1","c":"-5 to -2.5"},{"m":"hsa-miR-3200-3p","s":"LT2","c":"0 to 2.5"},{"m":"hsa-miR-3200-3p","s":"LT3","c":"0 to 2.5"},{"m":"hsa-miR-3200-3p","s":"ST2","c":"2.5 to 5"},{"m":"hsa-miR-3200-3p","s":"ST4","c":"-5 to -2.5"},{"m":"hsa-miR-3200-3p","s":"ST7","c":"-5 to -2.5"},{"m":"hsa-miR-3200-3p","s":"ST8","c":"-5 to -2.5"},{"m":"hsa-miR-3200-3p","s":"ST10","c":"-5 to -2.5"},{"m":"hsa-miR-3200-3p","s":"ST11","c":"-7.5 to -5"},{"m":"hsa-miR-3200-3p","s":"ST12","c":"0 to 2.5"},
{"m":"hsa-miR-183-3p","s":"LT1","c":"2.5 to 5"},{"m":"hsa-miR-183-3p","s":"LT2","c":"0"},{"m":"hsa-miR-183-3p","s":"LT3","c":"0"},{"m":"hsa-miR-183-3p","s":"ST2","c":"0 to 2.5"},{"m":"hsa-miR-183-3p","s":"ST4","c":"0 to 2.5"},{"m":"hsa-miR-183-3p","s":"ST7","c":"2.5 to 5"},{"m":"hsa-miR-183-3p","s":"ST8","c":"2.5 to 5"},{"m":"hsa-miR-183-3p","s":"ST10","c":"0 to 2.5"},{"m":"hsa-miR-183-3p","s":"ST11","c":"5 to 7.5"},{"m":"hsa-miR-183-3p","s":"ST12","c":"-2.5 to 0"},
{"m":"hsa-miR-34c-5p","s":"LT1","c":"-5 to -2.5"},{"m":"hsa-miR-34c-5p","s":"LT2","c":"-2.5 to 0"},{"m":"hsa-miR-34c-5p","s":"LT3","c":"-5 to -2.5"},{"m":"hsa-miR-34c-5p","s":"ST2","c":"-2.5 to 0"},{"m":"hsa-miR-34c-5p","s":"ST4","c":"-5 to -2.5"},{"m":"hsa-miR-34c-5p","s":"ST7","c":"-5 to -2.5"},{"m":"hsa-miR-34c-5p","s":"ST8","c":"-2.5 to 0"},{"m":"hsa-miR-34c-5p","s":"ST10","c":"-2.5 to 0"},{"m":"hsa-miR-34c-5p","s":"ST11","c":"-2.5 to 0"},{"m":"hsa-miR-34c-5p","s":"ST12","c":"-2.5 to 0"},
{"m":"hsa-miR-219a-5p","s":"LT1","c":"-5 to -2.5"},{"m":"hsa-miR-219a-5p","s":"LT2","c":"0 to 2.5"},{"m":"hsa-miR-219a-5p","s":"LT3","c":"-5 to -2.5"},{"m":"hsa-miR-219a-5p","s":"ST2","c":"-2.5 to 0"},{"m":"hsa-miR-219a-5p","s":"ST4","c":"-2.5 to 0"},{"m":"hsa-miR-219a-5p","s":"ST7","c":"-2.5 to 0"},{"m":"hsa-miR-219a-5p","s":"ST8","c":"-2.5 to 0"},{"m":"hsa-miR-219a-5p","s":"ST10","c":"-2.5 to 0"},{"m":"hsa-miR-219a-5p","s":"ST11","c":"-10 to -7.5"},{"m":"hsa-miR-219a-5p","s":"ST12","c":"-5 to -2.5"},
{"m":"hsa-miR-503-5p","s":"LT1","c":"2.5 to 5"},{"m":"hsa-miR-503-5p","s":"LT2","c":"0 to 2.5"},{"m":"hsa-miR-503-5p","s":"LT3","c":"-7.5 to -5"},{"m":"hsa-miR-503-5p","s":"ST2","c":"-2.5 to 0"},{"m":"hsa-miR-503-5p","s":"ST4","c":"5 to 7.5"},{"m":"hsa-miR-503-5p","s":"ST7","c":"0 to 2.5"},{"m":"hsa-miR-503-5p","s":"ST8","c":"2.5 to 5"},{"m":"hsa-miR-503-5p","s":"ST10","c":"2.5 to 5"},{"m":"hsa-miR-503-5p","s":"ST11","c":"0 to 2.5"},{"m":"hsa-miR-503-5p","s":"ST12","c":"2.5 to 5"},
{"m":"hsa-miR-21-3p","s":"LT1","c":"2.5 to 5"},{"m":"hsa-miR-21-3p","s":"LT2","c":"-2.5 to 0"},{"m":"hsa-miR-21-3p","s":"LT3","c":"-7.5 to -5"},{"m":"hsa-miR-21-3p","s":"ST2","c":"-2.5 to 0"},{"m":"hsa-miR-21-3p","s":"ST4","c":"2.5 to 5"},{"m":"hsa-miR-21-3p","s":"ST7","c":"2.5 to 5"},{"m":"hsa-miR-21-3p","s":"ST8","c":"5 to 7.5"},{"m":"hsa-miR-21-3p","s":"ST10","c":"2.5 to 5"},{"m":"hsa-miR-21-3p","s":"ST11","c":"2.5 to 5"},{"m":"hsa-miR-21-3p","s":"ST12","c":"-2.5 to 0"}
]
},
"vconcat": [
{
"width": 343, "height": 359,
"title": {"text": "A", "anchor": "start", "frame": "group", "orient": "top", "dx": -288, "dy": 30, "offset": 0, "baseline": "alphabetic", "fontSize": 30, "fontWeight": "normal", "font": "Liberation Sans", "color": "#000000"},
"data": {"name": "corr"},
"mark": {"type": "rect"},
"encoding": {
"x": {"field": "c", "type": "nominal", "sort": ["SB","ST11P","ST10P","ST8P","ST7P","ST4P","ST2P","ST2C","LT1P","LT3C","LT1C","ST10C","ST12P","ST12C","ST11C","ST8C","ST7C","ST4C","LT3P","LT2C","LT2P"], "scale": {"paddingInner": 0, "paddingOuter": 0.21875, "align": 0}, "axis": {"title": null, "labelAngle": 90, "labelFontSize": 8, "labelColor": "#1a1a1a", "ticks": false, "domain": false, "grid": false, "labelPadding": 5}},
"y": {"field": "r", "type": "nominal", "sort": ["LT2P","LT2C","LT3P","ST4C","ST7C","ST8C","ST11C","ST12C","ST12P","ST10C","LT1C","LT3C","LT1P","ST2C","ST2P","ST4P","ST7P","ST8P","ST10P","ST11P","SB"], "scale": {"paddingInner": 0, "paddingOuter": 0.0588235294, "align": 0}, "axis": {"orient": "right", "title": null, "labelFontSize": 8, "labelColor": "#1a1a1a", "ticks": false, "domain": false, "grid": false, "labelPadding": 4}},
"color": {"field": "v", "type": "quantitative", "bin": {"extent": [0, 1], "step": 0.1}, "scale": {"range": ["#313695","#4575b4","#74add1","#abd9e9","#cbe7f0","#fef3b0","#fdc979","#f88d52","#de432f","#a50026"]}, "legend": {"type": "gradient", "orient": "none", "legendX": 383, "legendY": 0, "title": null, "values": [0.0005, 0.1005, 0.2005, 0.3005, 0.4005, 0.5005, 0.6005, 0.7005, 0.8005, 0.9005, 0.9999], "gradientLength": 133, "gradientThickness": 9, "gradientStrokeWidth": 0, "labelFontSize": 8, "labelColor": "#1a1a1a", "labelOffset": 3, "direction": "vertical", "labelExpr": "(round(datum.value * 10) % 2 == 0) ? format(round(datum.value * 10) / 10, '~g') : ''"}}
}
},
{
"width": 355, "height": 401,
"title": {"text": "B", "anchor": "start", "frame": "group", "orient": "top", "dx": -289, "dy": 30, "offset": 0, "baseline": "alphabetic", "fontSize": 30, "fontWeight": "normal", "font": "Liberation Sans", "color": "#000000"},
"view": {"fill": "#ebebeb", "stroke": null},
"data": {"name": "fc"},
"mark": {"type": "rect", "stroke": "#ffffff", "strokeWidth": 0.5, "strokeOpacity": 0.3},
"encoding": {
"x": {"field": "s", "type": "nominal", "sort": ["LT1","LT2","LT3","ST2","ST4","ST7","ST8","ST10","ST11","ST12"], "scale": {"paddingInner": 0, "paddingOuter": 0.2205882353, "align": 0.4666667}, "axis": {"title": "SAMPLES", "titleFontWeight": "bold", "titleFontSize": 10, "titleColor": "#000000", "titlePadding": 0, "labelFontSize": 10, "labelColor": "#4d4d4d", "labelAngle": 0, "labelPadding": 1, "tickSize": 3, "tickColor": "#333333", "domain": false, "grid": false, "bandPosition": 0.5}},
"y": {"field": "m", "type": "nominal", "sort": ["hsa-miR-1246","hsa-miR-1290","hsa-miR-34b-3p","hsa-miR-34c-3p","hsa-miR-5584-5p","hsa-miR-196b-5p","hsa-miR-138-2-3p","hsa-miR-548v","hsa-miR-219a-2-3p","hsa-miR-135b-5p","hsa-miR-338-3p","hsa-miR-338-5p","hsa-miR-34b-5p","hsa-miR-584-5p","hsa-miR-7641","hsa-miR-642a-5p","hsa-miR-1287-5p","hsa-miR-3200-3p","hsa-miR-183-3p","hsa-miR-34c-5p","hsa-miR-219a-5p","hsa-miR-503-5p","hsa-miR-21-3p"], "scale": {"paddingInner": 0, "paddingOuter": 0.2941176471, "align": 0.5}, "axis": {"title": "miRNAs sorted for FDR", "titleFontWeight": "bold", "titleFontSize": 10, "titleColor": "#000000", "titlePadding": 1, "labelFontSize": 10, "labelColor": "#4d4d4d", "labelPadding": 1, "tickSize": 3, "tickColor": "#333333", "domain": false, "grid": false, "bandPosition": 0.5}},
"color": {"field": "c", "type": "nominal", "scale": {"domain": ["-10 to -7.5","-7.5 to -5","-5 to -2.5","-2.5 to 0","0","0 to 2.5","2.5 to 5","5 to 7.5"], "range": ["#cb181d","#ef3b2c","#fc8b6c","#fcbba1","#ffffff","#c7e9c0","#a1d99b","#41ab5d"]}, "legend": {"orient": "none", "legendX": 363, "legendY": 161, "title": "log2(FoldChange)", "titleFontSize": 10.5, "titleFontWeight": "bold", "titleColor": "#000000", "titlePadding": 2, "labelFontSize": 8.5, "labelColor": "#000000", "labelOffset": 10, "symbolType": "M-1,-1H3V1H-1Z", "symbolSize": 64, "symbolStrokeWidth": 0, "symbolOpacity": 1, "rowPadding": -2}}
}
}
],
"resolve": {"scale": {"color": "independent"}, "legend": {"color": "independent"}}
}
